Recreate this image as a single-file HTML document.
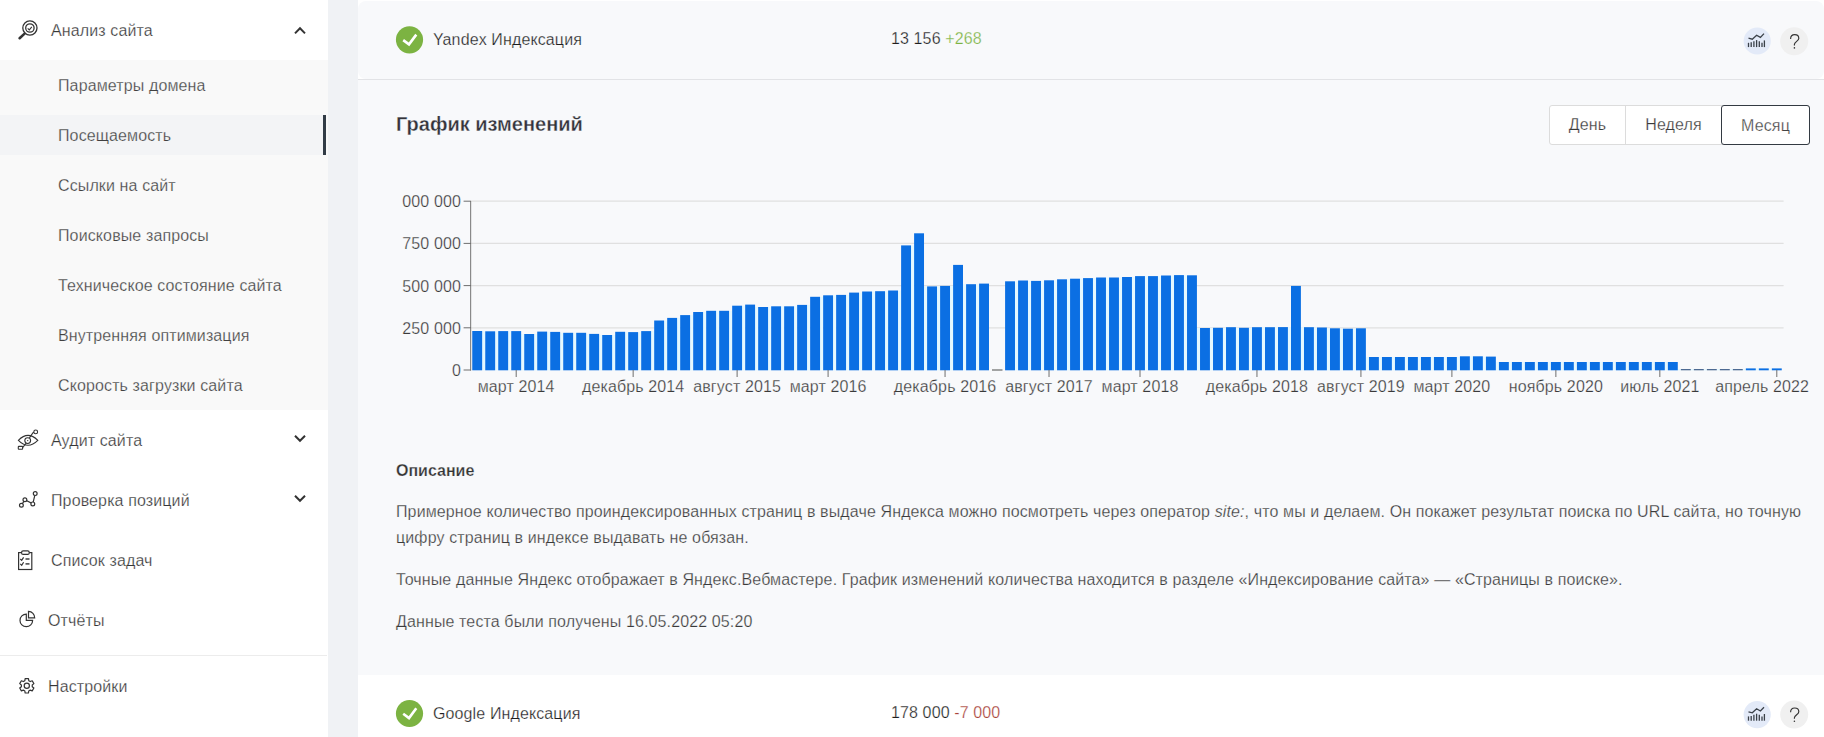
<!DOCTYPE html>
<html><head><meta charset="utf-8">
<style>
*{box-sizing:border-box;margin:0;padding:0}
html,body{width:1824px;height:737px;overflow:hidden}
body{background:#f0f2f5;font-family:"Liberation Sans",sans-serif;position:relative;color:#333;letter-spacing:0.12px}
.abs{position:absolute;white-space:nowrap}
#side{position:absolute;left:0;top:0;width:328px;height:737px;background:#fff}
#sub{position:absolute;left:0;top:60px;width:328px;height:350px;background:#f9f9f9}
#act{position:absolute;left:0;top:115px;width:326px;height:40px;background:#f3f4f6}
#actbar{position:absolute;left:323px;top:115px;width:3px;height:40px;background:#323c46}
#sep{position:absolute;left:0;top:655px;width:327px;height:1px;background:#ececec}
.mi{font-size:16px;line-height:20px;color:#363636;-webkit-text-stroke:0.25px #fff}
.si{font-size:16px;line-height:20px;color:#404040;left:58px;-webkit-text-stroke:0.25px #f9f9f9}
.si.on{-webkit-text-stroke:0.25px #f3f4f6}
#card{position:absolute;left:358px;top:0;width:1466px;height:737px;background:#fff}
#yrow{position:absolute;left:358px;top:1px;width:1466px;height:78px;background:#f8f9fb;border-radius:8px}
#exp{position:absolute;left:358px;top:79px;width:1466px;height:596px;background:#f8f9fb}
#rowline{position:absolute;left:358px;top:79px;width:1466px;height:1px;background:#e2e3e6}
.t16{font-size:16px;line-height:20px;-webkit-text-stroke:0.25px #f8f9fb}
.t16.w{-webkit-text-stroke:0.25px #fff}
.chart{position:absolute;left:0;top:0}
.btns{position:absolute;left:1549px;top:105px;width:261px;height:40px;background:#fff;border:1px solid #dcdcdc;border-radius:3px}
.btn{position:absolute;top:0;height:38px;font-size:16px;line-height:38px;text-align:center;color:#3a3a3a;-webkit-text-stroke:0.25px #fff}
p.d{position:absolute;left:396px;font-size:16px;line-height:26px;color:#3a3a3a;white-space:nowrap;-webkit-text-stroke:0.25px #f8f9fb}
svg.ic{position:absolute;left:0;top:0;overflow:visible}
</style></head><body>
<div id="side">
  <div id="sub"></div>
  <div id="act"></div>
  <div id="actbar"></div>
  <div id="sep"></div>
</div>
<div class="abs mi" style="left:51px;top:21px">Анализ сайта</div>
<div class="abs si" style="top:76px">Параметры домена</div>
<div class="abs si on" style="top:126px">Посещаемость</div>
<div class="abs si" style="top:176px">Ссылки на сайт</div>
<div class="abs si" style="top:226px">Поисковые запросы</div>
<div class="abs si" style="top:276px">Техническое состояние сайта</div>
<div class="abs si" style="top:326px">Внутренняя оптимизация</div>
<div class="abs si" style="top:376px">Скорость загрузки сайта</div>
<div class="abs mi" style="left:51px;top:431px">Аудит сайта</div>
<div class="abs mi" style="left:51px;top:491px">Проверка позиций</div>
<div class="abs mi" style="left:51px;top:551px">Список задач</div>
<div class="abs mi" style="left:48px;top:611px">Отчёты</div>
<div class="abs mi" style="left:48px;top:677px">Настройки</div>

<div id="card"></div>
<div id="yrow"></div>
<div id="exp"></div>
<div id="rowline"></div>

<div class="abs t16" style="left:433px;top:30px;color:#1e1e1e">Yandex Индексация</div>
<div class="abs t16" style="left:891px;top:29px;color:#1e1e1e">13 156 <span style="color:#7cb342">+268</span></div>
<div class="abs" style="left:396px;top:112px;font-size:20px;line-height:24px;font-weight:bold;color:#33333a;letter-spacing:0;-webkit-text-stroke:0.3px #f8f9fb">График изменений</div>

<div class="btns">
  <div class="btn" style="left:0;width:75px">День</div>
  <div class="btn" style="left:75px;width:96px;border-left:1px solid #dcdcdc">Неделя</div>
  <div class="btn" style="left:171px;width:89px;top:-1px;height:40px;line-height:40px;border:1px solid #333a42;border-radius:3px;color:#444">Месяц</div>
</div>

<svg class="chart" width="1824" height="737" viewBox="0 0 1824 737">
<g stroke="#e0e0e0" stroke-width="1.2"><line x1="471" y1="201.2" x2="1783.6" y2="201.2"/>
<line x1="471" y1="243.4" x2="1783.6" y2="243.4"/>
<line x1="471" y1="285.6" x2="1783.6" y2="285.6"/>
<line x1="471" y1="327.8" x2="1783.6" y2="327.8"/></g>
<g fill="#e4f8ff"><rect x="482.15" y="331.30" width="3.10" height="39.20"/>
<rect x="495.15" y="331.30" width="3.10" height="39.20"/>
<rect x="508.14" y="331.10" width="3.10" height="39.40"/>
<rect x="521.14" y="334.00" width="3.10" height="36.50"/>
<rect x="534.13" y="334.00" width="3.10" height="36.50"/>
<rect x="547.13" y="331.90" width="3.10" height="38.60"/>
<rect x="560.13" y="332.80" width="3.10" height="37.70"/>
<rect x="573.12" y="332.80" width="3.10" height="37.70"/>
<rect x="586.12" y="333.90" width="3.10" height="36.60"/>
<rect x="599.11" y="335.00" width="3.10" height="35.50"/>
<rect x="612.11" y="335.00" width="3.10" height="35.50"/>
<rect x="625.11" y="332.10" width="3.10" height="38.40"/>
<rect x="638.10" y="332.10" width="3.10" height="38.40"/>
<rect x="651.10" y="331.10" width="3.10" height="39.40"/>
<rect x="664.09" y="320.50" width="3.10" height="50.00"/>
<rect x="677.09" y="317.90" width="3.10" height="52.60"/>
<rect x="690.09" y="315.10" width="3.10" height="55.40"/>
<rect x="703.08" y="312.00" width="3.10" height="58.50"/>
<rect x="716.08" y="310.80" width="3.10" height="59.70"/>
<rect x="729.07" y="310.80" width="3.10" height="59.70"/>
<rect x="742.07" y="305.70" width="3.10" height="64.80"/>
<rect x="755.07" y="307.00" width="3.10" height="63.50"/>
<rect x="768.06" y="307.00" width="3.10" height="63.50"/>
<rect x="781.06" y="306.30" width="3.10" height="64.20"/>
<rect x="794.05" y="306.30" width="3.10" height="64.20"/>
<rect x="807.05" y="304.90" width="3.10" height="65.60"/>
<rect x="820.05" y="296.80" width="3.10" height="73.70"/>
<rect x="833.04" y="295.30" width="3.10" height="75.20"/>
<rect x="846.04" y="294.90" width="3.10" height="75.60"/>
<rect x="859.03" y="292.60" width="3.10" height="77.90"/>
<rect x="872.03" y="291.50" width="3.10" height="79.00"/>
<rect x="885.03" y="291.20" width="3.10" height="79.30"/>
<rect x="898.02" y="290.50" width="3.10" height="80.00"/>
<rect x="911.02" y="245.40" width="3.10" height="125.10"/>
<rect x="924.01" y="286.40" width="3.10" height="84.10"/>
<rect x="937.01" y="286.40" width="3.10" height="84.10"/>
<rect x="950.01" y="285.90" width="3.10" height="84.60"/>
<rect x="963.00" y="284.20" width="3.10" height="86.30"/>
<rect x="976.00" y="284.20" width="3.10" height="86.30"/>
<rect x="1014.99" y="281.30" width="3.10" height="89.20"/>
<rect x="1027.98" y="280.90" width="3.10" height="89.60"/>
<rect x="1040.98" y="280.90" width="3.10" height="89.60"/>
<rect x="1053.97" y="280.30" width="3.10" height="90.20"/>
<rect x="1066.97" y="279.30" width="3.10" height="91.20"/>
<rect x="1079.97" y="278.70" width="3.10" height="91.80"/>
<rect x="1092.96" y="278.10" width="3.10" height="92.40"/>
<rect x="1105.96" y="277.50" width="3.10" height="93.00"/>
<rect x="1118.95" y="277.50" width="3.10" height="93.00"/>
<rect x="1131.95" y="277.00" width="3.10" height="93.50"/>
<rect x="1144.95" y="276.10" width="3.10" height="94.40"/>
<rect x="1157.94" y="276.10" width="3.10" height="94.40"/>
<rect x="1170.94" y="275.50" width="3.10" height="95.00"/>
<rect x="1183.93" y="275.30" width="3.10" height="95.20"/>
<rect x="1196.93" y="328.00" width="3.10" height="42.50"/>
<rect x="1209.93" y="328.00" width="3.10" height="42.50"/>
<rect x="1222.92" y="327.80" width="3.10" height="42.70"/>
<rect x="1235.92" y="327.80" width="3.10" height="42.70"/>
<rect x="1248.91" y="327.80" width="3.10" height="42.70"/>
<rect x="1261.91" y="327.20" width="3.10" height="43.30"/>
<rect x="1274.91" y="327.20" width="3.10" height="43.30"/>
<rect x="1287.90" y="327.10" width="3.10" height="43.40"/>
<rect x="1300.90" y="327.20" width="3.10" height="43.30"/>
<rect x="1313.89" y="327.50" width="3.10" height="43.00"/>
<rect x="1326.89" y="328.30" width="3.10" height="42.20"/>
<rect x="1339.89" y="328.70" width="3.10" height="41.80"/>
<rect x="1352.88" y="328.70" width="3.10" height="41.80"/>
<rect x="1365.88" y="357.00" width="3.10" height="13.50"/>
<rect x="1378.87" y="357.00" width="3.10" height="13.50"/>
<rect x="1391.87" y="357.00" width="3.10" height="13.50"/>
<rect x="1404.87" y="357.00" width="3.10" height="13.50"/>
<rect x="1417.86" y="357.00" width="3.10" height="13.50"/>
<rect x="1430.86" y="357.00" width="3.10" height="13.50"/>
<rect x="1443.85" y="357.00" width="3.10" height="13.50"/>
<rect x="1456.85" y="357.00" width="3.10" height="13.50"/>
<rect x="1469.85" y="356.30" width="3.10" height="14.20"/>
<rect x="1482.84" y="356.60" width="3.10" height="13.90"/>
<rect x="1495.84" y="362.00" width="3.10" height="8.50"/>
<rect x="1508.83" y="362.00" width="3.10" height="8.50"/>
<rect x="1521.83" y="362.00" width="3.10" height="8.50"/>
<rect x="1534.83" y="362.00" width="3.10" height="8.50"/>
<rect x="1547.82" y="362.00" width="3.10" height="8.50"/>
<rect x="1560.82" y="362.00" width="3.10" height="8.50"/>
<rect x="1573.81" y="362.00" width="3.10" height="8.50"/>
<rect x="1586.81" y="362.00" width="3.10" height="8.50"/>
<rect x="1599.81" y="362.00" width="3.10" height="8.50"/>
<rect x="1612.80" y="362.00" width="3.10" height="8.50"/>
<rect x="1625.80" y="362.00" width="3.10" height="8.50"/>
<rect x="1638.79" y="362.00" width="3.10" height="8.50"/>
<rect x="1651.79" y="362.00" width="3.10" height="8.50"/>
<rect x="1664.79" y="362.00" width="3.10" height="8.50"/>
<rect x="1677.78" y="369.00" width="3.10" height="1.50"/>
<rect x="1690.78" y="369.00" width="3.10" height="1.50"/>
<rect x="1703.77" y="369.00" width="3.10" height="1.50"/>
<rect x="1716.77" y="369.00" width="3.10" height="1.50"/>
<rect x="1729.77" y="369.00" width="3.10" height="1.50"/>
<rect x="1742.76" y="369.00" width="3.10" height="1.50"/>
<rect x="1755.76" y="368.40" width="3.10" height="2.10"/>
<rect x="1768.75" y="368.40" width="3.10" height="2.10"/></g>
<g fill="#0b6fe3"><rect x="472.25" y="331.00" width="9.9" height="39.30"/>
<rect x="485.25" y="331.30" width="9.9" height="39.00"/>
<rect x="498.24" y="331.10" width="9.9" height="39.20"/>
<rect x="511.24" y="331.10" width="9.9" height="39.20"/>
<rect x="524.23" y="334.00" width="9.9" height="36.30"/>
<rect x="537.23" y="331.60" width="9.9" height="38.70"/>
<rect x="550.23" y="331.90" width="9.9" height="38.40"/>
<rect x="563.22" y="332.80" width="9.9" height="37.50"/>
<rect x="576.22" y="332.80" width="9.9" height="37.50"/>
<rect x="589.21" y="333.90" width="9.9" height="36.40"/>
<rect x="602.21" y="335.00" width="9.9" height="35.30"/>
<rect x="615.21" y="331.80" width="9.9" height="38.50"/>
<rect x="628.20" y="332.10" width="9.9" height="38.20"/>
<rect x="641.20" y="331.10" width="9.9" height="39.20"/>
<rect x="654.19" y="320.50" width="9.9" height="49.80"/>
<rect x="667.19" y="317.90" width="9.9" height="52.40"/>
<rect x="680.19" y="315.10" width="9.9" height="55.20"/>
<rect x="693.18" y="312.00" width="9.9" height="58.30"/>
<rect x="706.18" y="310.80" width="9.9" height="59.50"/>
<rect x="719.17" y="310.80" width="9.9" height="59.50"/>
<rect x="732.17" y="305.70" width="9.9" height="64.60"/>
<rect x="745.17" y="304.60" width="9.9" height="65.70"/>
<rect x="758.16" y="307.00" width="9.9" height="63.30"/>
<rect x="771.16" y="306.30" width="9.9" height="64.00"/>
<rect x="784.15" y="306.30" width="9.9" height="64.00"/>
<rect x="797.15" y="304.90" width="9.9" height="65.40"/>
<rect x="810.15" y="296.80" width="9.9" height="73.50"/>
<rect x="823.14" y="295.30" width="9.9" height="75.00"/>
<rect x="836.14" y="294.90" width="9.9" height="75.40"/>
<rect x="849.13" y="292.60" width="9.9" height="77.70"/>
<rect x="862.13" y="291.50" width="9.9" height="78.80"/>
<rect x="875.13" y="291.20" width="9.9" height="79.10"/>
<rect x="888.12" y="290.50" width="9.9" height="79.80"/>
<rect x="901.12" y="245.40" width="9.9" height="124.90"/>
<rect x="914.11" y="233.30" width="9.9" height="137.00"/>
<rect x="927.11" y="286.40" width="9.9" height="83.90"/>
<rect x="940.11" y="285.90" width="9.9" height="84.40"/>
<rect x="953.10" y="264.90" width="9.9" height="105.40"/>
<rect x="966.10" y="284.20" width="9.9" height="86.10"/>
<rect x="979.09" y="283.60" width="9.9" height="86.70"/>
<rect x="1005.09" y="281.30" width="9.9" height="89.00"/>
<rect x="1018.08" y="280.50" width="9.9" height="89.80"/>
<rect x="1031.08" y="280.90" width="9.9" height="89.40"/>
<rect x="1044.07" y="280.30" width="9.9" height="90.00"/>
<rect x="1057.07" y="279.30" width="9.9" height="91.00"/>
<rect x="1070.07" y="278.70" width="9.9" height="91.60"/>
<rect x="1083.06" y="278.10" width="9.9" height="92.20"/>
<rect x="1096.06" y="277.50" width="9.9" height="92.80"/>
<rect x="1109.05" y="277.50" width="9.9" height="92.80"/>
<rect x="1122.05" y="277.00" width="9.9" height="93.30"/>
<rect x="1135.05" y="276.10" width="9.9" height="94.20"/>
<rect x="1148.04" y="276.10" width="9.9" height="94.20"/>
<rect x="1161.04" y="275.50" width="9.9" height="94.80"/>
<rect x="1174.03" y="275.10" width="9.9" height="95.20"/>
<rect x="1187.03" y="275.30" width="9.9" height="95.00"/>
<rect x="1200.03" y="328.00" width="9.9" height="42.30"/>
<rect x="1213.02" y="327.80" width="9.9" height="42.50"/>
<rect x="1226.02" y="327.20" width="9.9" height="43.10"/>
<rect x="1239.01" y="327.80" width="9.9" height="42.50"/>
<rect x="1252.01" y="327.20" width="9.9" height="43.10"/>
<rect x="1265.01" y="327.20" width="9.9" height="43.10"/>
<rect x="1278.00" y="327.10" width="9.9" height="43.20"/>
<rect x="1291.00" y="285.90" width="9.9" height="84.40"/>
<rect x="1303.99" y="327.20" width="9.9" height="43.10"/>
<rect x="1316.99" y="327.50" width="9.9" height="42.80"/>
<rect x="1329.99" y="328.30" width="9.9" height="42.00"/>
<rect x="1342.98" y="328.70" width="9.9" height="41.60"/>
<rect x="1355.98" y="328.30" width="9.9" height="42.00"/>
<rect x="1368.97" y="357.00" width="9.9" height="13.30"/>
<rect x="1381.97" y="357.00" width="9.9" height="13.30"/>
<rect x="1394.97" y="357.00" width="9.9" height="13.30"/>
<rect x="1407.96" y="357.00" width="9.9" height="13.30"/>
<rect x="1420.96" y="357.00" width="9.9" height="13.30"/>
<rect x="1433.95" y="357.00" width="9.9" height="13.30"/>
<rect x="1446.95" y="357.00" width="9.9" height="13.30"/>
<rect x="1459.95" y="356.30" width="9.9" height="14.00"/>
<rect x="1472.94" y="356.30" width="9.9" height="14.00"/>
<rect x="1485.94" y="356.60" width="9.9" height="13.70"/>
<rect x="1498.93" y="362.00" width="9.9" height="8.30"/>
<rect x="1511.93" y="362.00" width="9.9" height="8.30"/>
<rect x="1524.93" y="362.00" width="9.9" height="8.30"/>
<rect x="1537.92" y="362.00" width="9.9" height="8.30"/>
<rect x="1550.92" y="362.00" width="9.9" height="8.30"/>
<rect x="1563.91" y="362.00" width="9.9" height="8.30"/>
<rect x="1576.91" y="362.00" width="9.9" height="8.30"/>
<rect x="1589.91" y="362.00" width="9.9" height="8.30"/>
<rect x="1602.90" y="362.00" width="9.9" height="8.30"/>
<rect x="1615.90" y="362.00" width="9.9" height="8.30"/>
<rect x="1628.89" y="362.00" width="9.9" height="8.30"/>
<rect x="1641.89" y="362.00" width="9.9" height="8.30"/>
<rect x="1654.89" y="362.00" width="9.9" height="8.30"/>
<rect x="1667.88" y="362.00" width="9.9" height="8.30"/>
<rect x="1680.88" y="369.00" width="9.9" height="1.30" fill="#4d6a92"/>
<rect x="1693.87" y="369.00" width="9.9" height="1.30" fill="#4d6a92"/>
<rect x="1706.87" y="369.00" width="9.9" height="1.30" fill="#4d6a92"/>
<rect x="1719.87" y="369.00" width="9.9" height="1.30" fill="#4d6a92"/>
<rect x="1732.86" y="369.00" width="9.9" height="1.30" fill="#4d6a92"/>
<rect x="1745.86" y="368.40" width="9.9" height="1.90"/>
<rect x="1758.85" y="368.40" width="9.9" height="1.90"/>
<rect x="1771.85" y="368.40" width="9.9" height="1.90"/></g>
<line x1="992" y1="370" x2="1002.5" y2="370" stroke="#6a6a6a" stroke-width="1.2"/>
<g stroke="#6e6e6e" stroke-width="1">
<line x1="470.6" y1="201" x2="470.6" y2="370.5" stroke="#8a8a8a" stroke-width="1.2"/>
<line x1="463.6" y1="201.2" x2="471" y2="201.2"/>
<line x1="463.6" y1="243.4" x2="471" y2="243.4"/>
<line x1="463.6" y1="285.6" x2="471" y2="285.6"/>
<line x1="463.6" y1="327.8" x2="471" y2="327.8"/>
<line x1="463.6" y1="370" x2="471" y2="370"/>
<line x1="516.19" y1="370" x2="516.19" y2="377"/>
<line x1="633.15" y1="370" x2="633.15" y2="377"/>
<line x1="737.12" y1="370" x2="737.12" y2="377"/>
<line x1="828.09" y1="370" x2="828.09" y2="377"/>
<line x1="945.06" y1="370" x2="945.06" y2="377"/>
<line x1="1049.02" y1="370" x2="1049.02" y2="377"/>
<line x1="1140.00" y1="370" x2="1140.00" y2="377"/>
<line x1="1256.96" y1="370" x2="1256.96" y2="377"/>
<line x1="1360.93" y1="370" x2="1360.93" y2="377"/>
<line x1="1451.90" y1="370" x2="1451.90" y2="377"/>
<line x1="1555.87" y1="370" x2="1555.87" y2="377"/>
<line x1="1659.84" y1="370" x2="1659.84" y2="377"/>
<line x1="1776.80" y1="370" x2="1776.80" y2="377"/>
</g>
<g fill="#3a3a3a" stroke="#f8f9fb" stroke-width="0.25" font-size="16" font-family="Liberation Sans, sans-serif" letter-spacing="0.12">
<text x="461" y="206.9" text-anchor="end">000 000</text>
<text x="461" y="249.1" text-anchor="end">750 000</text>
<text x="461" y="291.9" text-anchor="end">500 000</text>
<text x="461" y="334.1" text-anchor="end">250 000</text>
<text x="461" y="376.3" text-anchor="end">0</text>
<text x="516.19" y="391.9" text-anchor="middle">март 2014</text>
<text x="633.15" y="391.9" text-anchor="middle">декабрь 2014</text>
<text x="737.12" y="391.9" text-anchor="middle">август 2015</text>
<text x="828.09" y="391.9" text-anchor="middle">март 2016</text>
<text x="945.06" y="391.9" text-anchor="middle">декабрь 2016</text>
<text x="1049.02" y="391.9" text-anchor="middle">август 2017</text>
<text x="1140.00" y="391.9" text-anchor="middle">март 2018</text>
<text x="1256.96" y="391.9" text-anchor="middle">декабрь 2018</text>
<text x="1360.93" y="391.9" text-anchor="middle">август 2019</text>
<text x="1451.90" y="391.9" text-anchor="middle">март 2020</text>
<text x="1555.87" y="391.9" text-anchor="middle">ноябрь 2020</text>
<text x="1659.84" y="391.9" text-anchor="middle">июль 2021</text>
<text x="1809" y="391.9" text-anchor="end">апрель 2022</text>
</g>
</svg>

<div class="abs" style="left:396px;top:461px;font-size:16px;line-height:20px;font-weight:bold;color:#333;letter-spacing:0;-webkit-text-stroke:0.25px #f8f9fb">Описание</div>
<p class="d" style="top:499px">Примерное количество проиндексированных страниц в выдаче Яндекса можно посмотреть через оператор <i>site:</i>, что мы и делаем. Он покажет результат поиска по URL сайта, но точную<br>цифру страниц в индексе выдавать не обязан.</p>
<p class="d" style="top:567px">Точные данные Яндекс отображает в Яндекс.Вебмастере. График изменений количества находится в разделе «Индексирование сайта» — «Страницы в поиске».</p>
<p class="d" style="top:609px">Данные теста были получены 16.05.2022 05:20</p>

<div class="abs t16 w" style="left:433px;top:704px;color:#1e1e1e">Google Индексация</div>
<div class="abs t16 w" style="left:891px;top:703px;color:#1e1e1e">178 000 <span style="color:#a8433a">-7 000</span></div>

<svg class="ic" width="1824" height="737">
  <!-- analysis icon -->
  <g fill="none" stroke="#333" stroke-width="1.3">
    <circle cx="29.9" cy="28" r="7.1"/>
    <circle cx="29.9" cy="28" r="4.2"/>
    <polyline points="27.7,28.4 29.3,29.9 31.8,26.9" stroke-width="1.1"/>
  </g>
  <line x1="19.6" y1="38.2" x2="24.6" y2="33.6" stroke="#333" stroke-width="2.6" stroke-linecap="round"/>
  <!-- chevrons -->
  <polyline points="295,33.4 300,28.3 305,33.4" fill="none" stroke="#333" stroke-width="2"/>
  <polyline points="295,435.7 300,440.8 305,435.7" fill="none" stroke="#333" stroke-width="2"/>
  <polyline points="295,495.7 300,500.8 305,495.7" fill="none" stroke="#333" stroke-width="2"/>
  <!-- eye -->
  <g fill="none" stroke="#333" stroke-width="1.1">
    <path d="M18.4,440.3 Q28,430.5 37.8,440.3 Q28,450.1 18.4,440.3Z"/>
    <circle cx="27.7" cy="440.6" r="2.9"/>
    <line x1="22.6" y1="447.6" x2="26.2" y2="443.2"/>
    <polyline points="29.4,437.9 33,432.6 34,432.2"/>
    <circle cx="35.7" cy="431.9" r="1.9"/>
    <rect x="18.3" y="446.4" width="4.3" height="2.8" rx="0.5"/>
  </g>
  <circle cx="27.7" cy="440.6" r="0.7" fill="#333"/>
  <!-- positions -->
  <g fill="none" stroke="#333" stroke-width="1.2">
    <polyline points="21.4,505.2 24.9,499.8 32.8,503.9 35.2,493.6"/>
  </g>
  <g fill="#fff" stroke="#333" stroke-width="1.2">
    <circle cx="21.4" cy="505.2" r="1.9"/>
    <circle cx="24.9" cy="499.8" r="1.9"/>
    <circle cx="32.8" cy="503.9" r="1.9"/>
    <circle cx="35.2" cy="493.6" r="1.9"/>
  </g>
  <!-- clipboard -->
  <g fill="none" stroke="#333" stroke-width="1.2">
    <rect x="18.6" y="552.6" width="13.2" height="16.9"/>
    <rect x="21.6" y="550.8" width="7.6" height="3.6" rx="1.5" fill="#fff"/>
    <polyline points="20.3,559 21.7,560.4 23.6,557.4"/>
    <polyline points="20.3,563.9 21.7,565.3 23.6,562.3"/>
    <line x1="25.5" y1="559" x2="29.5" y2="559" stroke-width="1.4"/>
    <line x1="25.5" y1="563.9" x2="29.5" y2="563.9" stroke-width="1.4"/>
  </g>
  <!-- pie -->
  <g fill="none" stroke="#333" stroke-width="1.2">
    <path d="M26.3,614.1 A6.3,6.3 0 1 0 32.6,620.4 L26.3,620.4 Z"/>
    <path d="M28.5,611.4 L28.5,617.9 L34.7,617.9 A6.4,6.4 0 0 0 28.5,611.4Z"/>
  </g>
  <!-- gear -->
  <g fill="none" stroke="#333" stroke-width="1.2" stroke-linejoin="round">
    <path d="M28.77,680.67 L28.46,678.59 L25.14,678.59 L24.83,680.67 L23.34,681.53 L21.39,680.75 L19.72,683.64 L21.37,684.94 L21.37,686.66 L19.72,687.96 L21.39,690.85 L23.34,690.07 L24.83,690.93 L25.14,693.01 L28.46,693.01 L28.77,690.93 L30.26,690.07 L32.21,690.85 L33.88,687.96 L32.23,686.66 L32.23,684.94 L33.88,683.64 L32.21,680.75 L30.26,681.53Z"/>
    <circle cx="26.8" cy="685.8" r="2.6"/>
  </g>
  <!-- status checks -->
  <circle cx="409.5" cy="39.8" r="13.6" fill="#7cb342"/>
  <polyline points="403.2,40.1 409,44.4 416.3,34.6" fill="none" stroke="#fff" stroke-width="2.6"/>
  <circle cx="409.5" cy="713.5" r="13.6" fill="#7cb342"/>
  <polyline points="403.2,713.8 409,718.1 416.3,708.3" fill="none" stroke="#fff" stroke-width="2.6"/>
  <!-- right icons row 1 -->
  <circle cx="1757.2" cy="41" r="13.6" fill="#e3eaf8"/>
  <circle cx="1794.2" cy="41.3" r="14" fill="#f0f0f0"/>
  <g id="chic">
  <polyline points="1748.5,38.2 1752.3,39.2 1756.6,35.2 1760.4,37.4 1764,33.6" fill="none" stroke="#3a4048" stroke-width="1.3"/>
  <g stroke="#3a4048" stroke-width="1.3">
    <line x1="1748.5" y1="42.8" x2="1748.5" y2="47.1"/>
    <line x1="1751.2" y1="42.3" x2="1751.2" y2="47.1"/>
    <line x1="1753.9" y1="41.2" x2="1753.9" y2="47.1"/>
    <line x1="1756.6" y1="40.1" x2="1756.6" y2="47.1"/>
    <line x1="1759.3" y1="41.2" x2="1759.3" y2="47.1"/>
    <line x1="1762" y1="42.8" x2="1762" y2="47.1"/>
    <line x1="1764.4" y1="40.4" x2="1764.4" y2="47.1"/>
  </g>
  </g>
  <g id="qm">
  <path d="M1790.6,38.9 C1790.6,36.2 1792.4,34.6 1794.7,34.6 C1797.1,34.6 1798.8,36.2 1798.8,38.4 C1798.8,40.9 1794.6,41.8 1794.4,44.4 L1794.4,45.4" fill="none" stroke="#333" stroke-width="1.15"/>
  <circle cx="1794.4" cy="47.9" r="0.8" fill="#333"/>
  </g>
  <!-- row 2 icons -->
  <circle cx="1757.2" cy="714.6" r="13.6" fill="#e3eaf8"/>
  <circle cx="1794.2" cy="714.6" r="14" fill="#f0f0f0"/>
  <use href="#chic" y="673.6"/>
  <use href="#qm" y="673.4"/>
</svg>
</body></html>
